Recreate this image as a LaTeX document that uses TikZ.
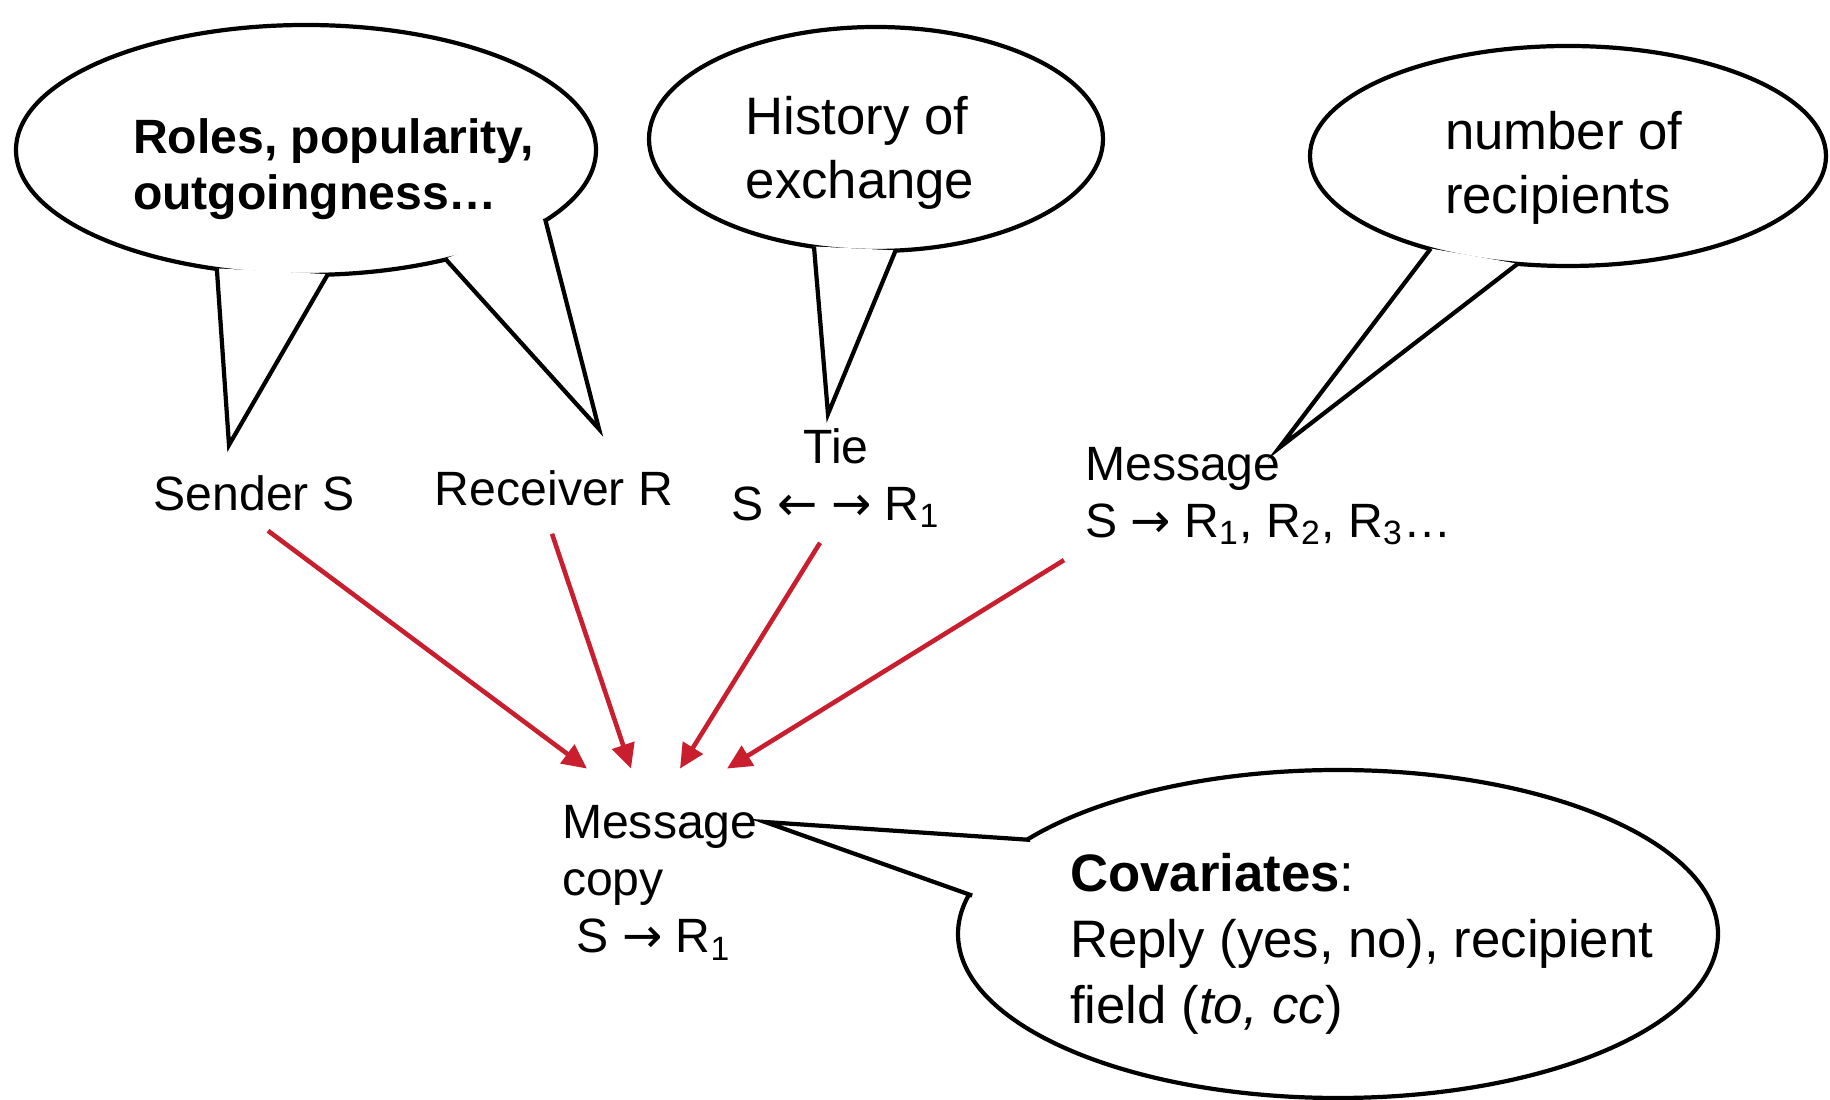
\documentclass[tikz,border=0pt]{standalone}
\usepackage{fontspec}
\setmainfont{Liberation Sans}
\newfontfamily\arrowfont{DejaVu Sans}
\usepackage{xcolor}
\usepackage{tikz}
\usetikzlibrary{shapes.geometric,calc,arrows.meta}
\definecolor{arrowred}{RGB}{200,30,45}
\newcommand{\toarrow}{{\arrowfont →}}
\newcommand{\fromarrow}{{\arrowfont ←}}

\begin{document}
\begin{tikzpicture}[line width=1.2pt,
    bubble/.style={shape=ellipse,draw,fill=white,inner sep=0pt},
    tail/.style={draw,fill=white,line join=miter},
    word/.style={inner sep=0pt,align=left,font=\fontsize{13.7}{16.2}\selectfont},
    thought/.style={inner sep=0pt,align=left,font=\fontsize{15}{18}\selectfont},
    link/.style={draw=arrowred,line width=1.3pt,-{Triangle[length=7pt,width=6.5pt]}}]
  \useasboundingbox (0,0) rectangle (18.3,11);

  \node[bubble,minimum width=5.80cm,minimum height=2.50cm] (rolesb) at (3.06,9.50) {};
  \draw[tail] ($(rolesb.center)!0.98!(rolesb.233)$) -- (2.29,6.55) -- ($(rolesb.center)!0.98!(rolesb.280)$);
  \draw[tail] ($(rolesb.center)!0.98!(rolesb.322)$) -- (5.99,6.71) -- ($(rolesb.center)!0.98!(rolesb.344)$);
  \node[bubble,minimum width=4.54cm,minimum height=2.24cm] (historyb) at (8.76,9.61) {};
  \draw[tail] ($(historyb.center)!0.98!(historyb.240)$) -- (8.28,6.86) -- ($(historyb.center)!0.98!(historyb.280)$);
  \node[bubble,minimum width=5.16cm,minimum height=2.20cm] (recipb) at (15.68,9.44) {};
  \draw[tail] ($(recipb.center)!0.98!(recipb.214)$) -- (12.79,6.52) -- ($(recipb.center)!0.98!(recipb.245)$);
  \node[bubble,minimum width=7.60cm,minimum height=3.28cm] (covarb) at (13.38,1.66) {};
  \draw[tail] ($(covarb.center)!0.985!(covarb.163)$) -- (7.65,2.78) -- ($(covarb.center)!0.985!(covarb.174)$);

  \node[thought,font=\bfseries\fontsize{13.7}{15.9}\selectfont,anchor=west] (roles) at (1.31,9.31) {Roles, popularity,\\outgoingness…};
  \node[thought] (history) at (8.60,9.47) {History of\\exchange};
  \node[thought,anchor=west] (recip) at (14.43,9.32) {number of\\recipients};
  \node[thought,font=\fontsize{15}{18.8}\selectfont,anchor=west] (covar) at (10.68,1.56) {\textbf{Covariates}:\\Reply (yes, no), recipient\\field (\textit{to, cc})};

  \node[word] (sender) at (2.54,6.07) {Sender S};
  \node[word] (receiver) at (5.54,6.12) {Receiver R};
  \node[word,align=center] (tie) at (8.36,6.22) {Tie\\S \fromarrow{} \toarrow{} R\textsubscript{1}};
  \node[word,anchor=west] (msg) at (10.83,6.04) {Message\\S \toarrow{} R\textsubscript{1}, R\textsubscript{2}, R\textsubscript{3}…};
  \node[word,anchor=west] (copy) at (5.60,2.17) {Message\\copy\\\hspace*{0.3em}S \toarrow{} R\textsubscript{1}};

  \draw[link] ([shift={(0.14,-0.18)}]sender.south) -- ([shift={(0.27,0.35)}]copy.north west);
  \draw[link] ([shift={(-0.02,-0.26)}]receiver.south) -- ([shift={(0.71,0.35)}]copy.north west);
  \draw[link] ([shift={(-0.16,-0.13)}]tie.south) -- ([shift={(1.20,0.35)}]copy.north west);
  \draw[link] ([shift={(-0.19,-0.13)}]msg.south west) -- ([shift={(1.67,0.35)}]copy.north west);
\end{tikzpicture}
\end{document}
